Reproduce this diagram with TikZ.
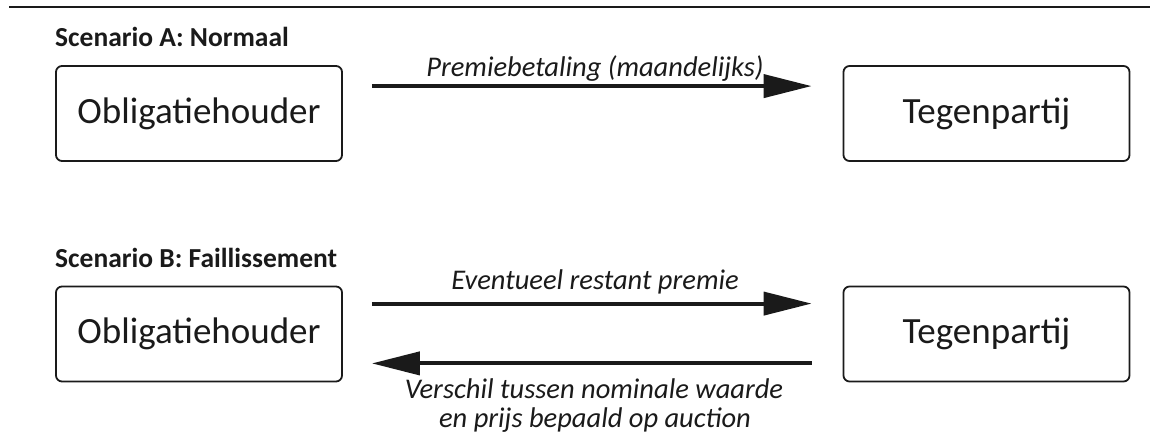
\documentclass[tikz,border=0pt]{standalone}
\usepackage{fontspec}
\setmainfont{Carlito}
\usetikzlibrary{arrows.meta}
\definecolor{ink}{HTML}{1A1A1A}
\begin{document}
\begin{tikzpicture}[x=1pt,y=1pt,
  party/.style={draw=ink, line width=1.8pt, rounded corners=6pt, minimum width=286pt, minimum height=95pt, inner sep=0pt, font=\fontsize{37}{44}\selectfont, text=ink},
  flow/.style={draw=ink, line width=4pt, -{Triangle[length=48pt,width=23pt]}},
  flowlabel/.style={font=\fontsize{28.5}{30}\selectfont\itshape, text=ink, inner sep=0pt, anchor=base},
  title/.style={font=\fontsize{27.5}{30}\selectfont\bfseries, text=ink, inner sep=0pt, anchor=base west}]
\useasboundingbox (0,0) rectangle (1153,-443);
\coordinate (rl) at (9,-7);
\coordinate (rr) at (1150,-7);
\draw[ink, line width=2.5pt] (rl) -- (rr);

\node[title] (tA) at (55,-47) {Scenario A: Normaal};
\node[party] (A1) at (199,-113.5) {Obligatiehouder};
\node[party] (A2) at (986.5,-113.5) {Tegenpartij};
\draw[flow] ([shift={(29pt,-21pt)}]A1.north east) -- ([shift={(-31pt,-21pt)}]A2.north west);
\node[flowlabel] (lA) at (595,-77) {Premiebetaling (maandelijks)};

\node[title] (tB) at (55,-268) {Scenario B: Faillissement};
\node[party] (B1) at (199,-334) {Obligatiehouder};
\node[party] (B2) at (986.5,-334) {Tegenpartij};
\draw[flow] ([shift={(29pt,-18pt)}]B1.north east) -- ([shift={(-31pt,-18pt)}]B2.north west);
\draw[flow] ([shift={(-31pt,19pt)}]B2.south west) -- ([shift={(29pt,19pt)}]B1.south east);
\node[flowlabel] (lB1) at (595,-290) {Eventueel restant premie};
\node[flowlabel] (lB2) at (594,-398) {Verschil tussen nominale waarde};
\node[flowlabel] (lB3) at (595,-427) {en prijs bepaald op auction};
\end{tikzpicture}
\end{document}
